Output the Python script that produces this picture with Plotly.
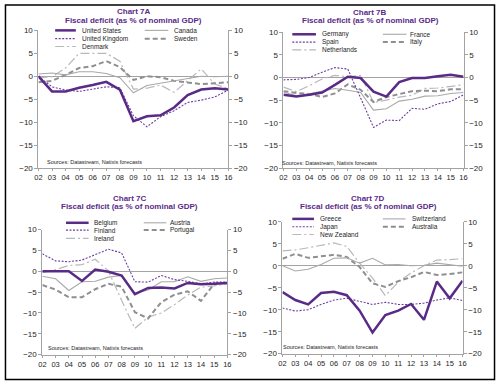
import plotly.graph_objects as go

years = list(range(2002, 2017))
year_labels = ["02", "03", "04", "05", "06", "07", "08", "09", "10", "11", "12", "13", "14", "15", "16"]
y_ticks = [-20, -15, -10, -5, 0, 5, 10]

# Chart 7A
us_7a = [0.0, -3.3, -3.3, -2.5, -1.9, -1.2, -2.9, -9.8, -8.7, -8.5, -6.8, -4.1, -2.9, -2.6, -2.9]
uk_7a = [0.0, -2.3, -3.0, -3.3, -2.8, -2.3, -2.5, -8.6, -11.0, -8.8, -7.5, -5.7, -5.2, -4.5, -3.0]
canada_7a = [0.5, 0.7, 0.3, 1.0, 1.0, 0.6, -0.3, -3.6, -2.0, -1.5, -1.0, -0.5, 0.0, -0.1, 0.0]
sweden_7a = [-1.3, -1.0, 0.3, 1.8, 2.2, 3.3, 2.0, -0.8, 0.0, -0.2, -1.0, -1.3, -1.7, -1.5, -1.3]
denmark_7a = [-0.3, -0.1, 1.8, 5.0, 5.0, 5.0, 3.3, -2.8, -2.6, -1.9, -3.5, -1.0, 1.6, -1.7, -2.7]

# Chart 7B
germany_7b = [-3.8, -4.2, -3.8, -3.3, -1.6, 0.2, -0.1, -3.1, -4.2, -1.0, -0.1, -0.1, 0.3, 0.6, 0.2]
spain_7b = [-0.5, -0.4, 0.0, 1.2, 2.2, 1.9, -4.5, -11.0, -9.4, -9.5, -6.8, -7.0, -5.8, -5.3, -3.8]
france_7b = [-3.2, -4.0, -3.6, -3.0, -2.4, -2.8, -3.3, -7.2, -6.9, -5.2, -4.8, -4.1, -4.0, -3.5, -3.3]
italy_7b = [-3.0, -3.4, -3.6, -4.3, -3.5, -1.5, -2.7, -5.4, -4.3, -3.7, -3.0, -2.9, -3.0, -2.6, -2.6]
netherlands_7b = [-2.1, -3.1, -1.8, -0.3, 0.5, 0.2, 0.5, -5.5, -5.0, -4.3, -3.9, -2.4, -2.3, -2.0, -1.6]

# Chart 7C
belgium_7c = [0.0, 0.0, 0.0, -2.3, 0.4, -0.1, -1.0, -5.5, -4.0, -3.9, -4.1, -2.8, -3.1, -3.0, -2.8]
finland_7c = [4.2, 2.5, 2.3, 2.7, 4.0, 5.3, 4.4, -2.5, -2.6, -1.0, -2.0, -2.4, -3.0, -2.6, -2.6]
austria_7c = [-1.2, -1.8, -4.6, -2.5, -2.4, -1.4, -1.0, -5.3, -4.5, -2.5, -2.5, -1.3, -2.4, -1.8, -1.6]
portugal_7c = [-3.3, -4.4, -6.2, -6.2, -4.3, -3.0, -3.7, -9.8, -11.3, -7.4, -5.6, -4.8, -7.1, -3.0, -2.8]
ireland_7c = [-0.3, 0.4, 1.4, 1.6, 2.9, 0.1, -7.0, -13.7, -11.0, -10.0, -8.0, -5.7, -3.8, -3.5, -3.0]

# Chart 7D
greece_7d = [-6.0, -7.8, -8.8, -6.2, -5.9, -6.7, -10.2, -15.2, -11.2, -10.2, -8.7, -12.3, -3.6, -7.4, -3.4]
japan_7d = [-9.6, -10.3, -10.0, -8.8, -7.8, -7.4, -8.1, -8.8, -8.3, -8.8, -8.8, -8.5, -7.8, -7.3, -7.9]
switzerland_7d = [0.0, -1.2, -0.8, 0.3, 1.7, 1.8, 0.6, 1.7, 0.2, 0.3, 0.0, 0.1, 0.6, 0.2, -0.1]
australia_7d = [1.6, 2.7, 1.8, 2.2, 2.5, 2.0, -0.3, -4.0, -4.8, -3.5, -2.6, -1.4, -2.1, -1.9, -1.5]
newzealand_7d = [3.4, 3.6, 4.1, 4.6, 5.2, 4.4, 0.6, -2.8, -6.8, -3.7, -1.6, 0.0, 1.3, 1.4, 1.6]

chart_titles = ["Chart 7A", "Chart 7B", "Chart 7C", "Chart 7D"]
subtitle = "Fiscal deficit (as % of nominal GDP)"
source_text = "Sources: Datastream, Natixis forecasts"

W, H = 500, 387
PURPLE = "#5a2a87"
styles = {
    "main": dict(color=PURPLE, width=2.5, dash="solid"),
    "dot": dict(color="#6b3f9e", width=1.1, dash="2px,1.5px"),
    "thin": dict(color="#a9a9a9", width=1.1, dash="solid"),
    "dash": dict(color="#8f8f8f", width=2.0, dash="5px,3px"),
    "dashdot": dict(color="#b8b8b8", width=1.2, dash="9px,3px,2px,3px"),
}

# legend order: col1 row1, col2 row1, col1 row2, col2 row2, col1 row3
panels = [
    dict(series=[("United States", us_7a, "main"), ("Canada", canada_7a, "thin"),
                 ("United Kingdom", uk_7a, "dot"), ("Sweden", sweden_7a, "dash"),
                 ("Denmark", denmark_7a, "dashdot")],
         px=(35, 228), py=(27, 168), title=(132, 8, 17),
         leg=dict(rows=(27, 35.5, 43.5), c1=(52, 73, 77), c2=(143, 167, 171)),
         src=(42, 162)),
    dict(series=[("Germany", germany_7b, "main"), ("France", france_7b, "thin"),
                 ("Spain", spain_7b, "dot"), ("Italy", italy_7b, "dash"),
                 ("Netherlands", netherlands_7b, "dashdot")],
         px=(284, 467), py=(29, 168), title=(372, 9, 17),
         leg=dict(rows=(31, 39, 47), c1=(293, 317, 321), c2=(385, 409, 411)),
         src=(280, 163)),
    dict(series=[("Belgium", belgium_7c, "main"), ("Austria", austria_7c, "thin"),
                 ("Finland", finland_7c, "dot"), ("Portugal", portugal_7c, "dash"),
                 ("Ireland", ireland_7c, "dashdot")],
         px=(39, 227), py=(231, 359), title=(128, 199, 207),
         leg=dict(rows=(224, 231.5, 240), c1=(63, 86, 89), c2=(142, 165, 167)),
         src=(43, 352)),
    dict(series=[("Greece", greece_7d, "main"), ("Switzerland", switzerland_7d, "thin"),
                 ("Japan", japan_7d, "dot"), ("Australia", australia_7d, "dash"),
                 ("New Zealand", newzealand_7d, "dashdot")],
         px=(283, 466), py=(223, 358), title=(370, 199, 207),
         leg=dict(rows=(220, 228, 236), c1=(293, 315, 319), c2=(385, 408, 413)),
         src=(281, 351)),
]

def fx(p):
    return p / W

def fy(p):
    return 1 - p / H

fig = go.Figure()
shapes = []
annotations = []
draw_order = ["dashdot", "dash", "thin", "dot", "main"]
FONT = "Liberation Sans, Arial, sans-serif"
AXIS_COLOR = "#a3a3a3"
TEXT_COLOR = "#1e1e1e"

layout = dict(width=W, height=H, margin=dict(l=0, r=0, t=0, b=0),
              paper_bgcolor="white", plot_bgcolor="white", showlegend=False,
              font=dict(family=FONT, size=8, color=TEXT_COLOR))

for i, p in enumerate(panels):
    n = i + 1
    xa = "x" if n == 1 else f"x{n}"
    ya = "y" if n == 1 else f"y{n}"
    ra = f"y{n + 4}"
    sfx = "" if n == 1 else str(n)
    layout["xaxis" + sfx] = dict(
        domain=[fx(p["px"][0]), fx(p["px"][1])], anchor=ya, range=[2002, 2016],
        tickvals=years, ticktext=year_labels, showgrid=False, zeroline=False,
        showline=True, linecolor=AXIS_COLOR, linewidth=1, ticks="outside",
        ticklen=2, tickcolor=AXIS_COLOR, tickfont=dict(size=7.5, color=TEXT_COLOR),
        fixedrange=True)
    ycommon = dict(range=[-20, 10], tickvals=y_ticks, showgrid=False,
                   showline=True, linecolor=AXIS_COLOR, linewidth=1, ticks="outside",
                   ticklen=3, tickcolor=AXIS_COLOR, tickfont=dict(size=8, color=TEXT_COLOR),
                   fixedrange=True)
    layout["yaxis" + sfx] = dict(domain=[fy(p["py"][1]), fy(p["py"][0])], anchor=xa,
                                 zeroline=True, zerolinecolor=AXIS_COLOR, zerolinewidth=1,
                                 **ycommon)
    layout[f"yaxis{n + 4}"] = dict(overlaying=ya, side="right", anchor=xa,
                                   zeroline=False, **ycommon)
    lookup = {s[2]: s for s in p["series"]}
    for st in draw_order:
        name, vals, _ = lookup[st]
        fig.add_trace(go.Scatter(x=years, y=vals, mode="lines", name=name,
                                 line=styles[st], xaxis=xa, yaxis=ya,
                                 hoverinfo="skip"))
    fig.add_trace(go.Scatter(x=[years[0]], y=[0], mode="lines", xaxis=xa, yaxis=ra,
                             line=dict(width=0), hoverinfo="skip", showlegend=False))
    # titles
    tx, ty1, ty2 = p["title"]
    annotations.append(dict(text="<b>" + chart_titles[i] + "</b>", x=fx(tx), y=fy(ty1),
                            xref="paper", yref="paper", showarrow=False,
                            font=dict(size=8, color=PURPLE), xanchor="center", yanchor="middle"))
    annotations.append(dict(text="<b>" + subtitle + "</b>", x=fx(tx), y=fy(ty2),
                            xref="paper", yref="paper", showarrow=False,
                            font=dict(size=8, color=PURPLE), xanchor="center", yanchor="middle"))
    # sources
    annotations.append(dict(text=source_text, x=fx(p["src"][0]), y=fy(p["src"][1]),
                            xref="paper", yref="paper", showarrow=False,
                            font=dict(size=5.5, color=TEXT_COLOR), xanchor="left", yanchor="middle"))
    # manual legend
    lg = p["leg"]
    slots = [(lg["c1"], lg["rows"][0]), (lg["c2"], lg["rows"][0]),
             (lg["c1"], lg["rows"][1]), (lg["c2"], lg["rows"][1]),
             (lg["c1"], lg["rows"][2])]
    for (name, vals, st), (col, ry) in zip(p["series"], slots):
        x0, x1, xt = col
        shapes.append(dict(type="line", xref="paper", yref="paper",
                           x0=fx(x0), x1=fx(x1), y0=fy(ry), y1=fy(ry), line=styles[st]))
        annotations.append(dict(text=name, x=fx(xt), y=fy(ry), xref="paper", yref="paper",
                                showarrow=False, font=dict(size=6.5, color=TEXT_COLOR),
                                xanchor="left", yanchor="middle"))

shapes.append(dict(type="rect", xref="paper", yref="paper",
                   x0=fx(1.5), x1=fx(498.5), y0=fy(384.5), y1=fy(1),
                   line=dict(color="black", width=1.5)))
layout["shapes"] = shapes
layout["annotations"] = annotations
fig.update_layout(**layout)

fig.write_html("out.html", config=dict(displayModeBar=False, staticPlot=True),
               post_script="document.body.style.margin='0';document.body.style.overflow='hidden';")
